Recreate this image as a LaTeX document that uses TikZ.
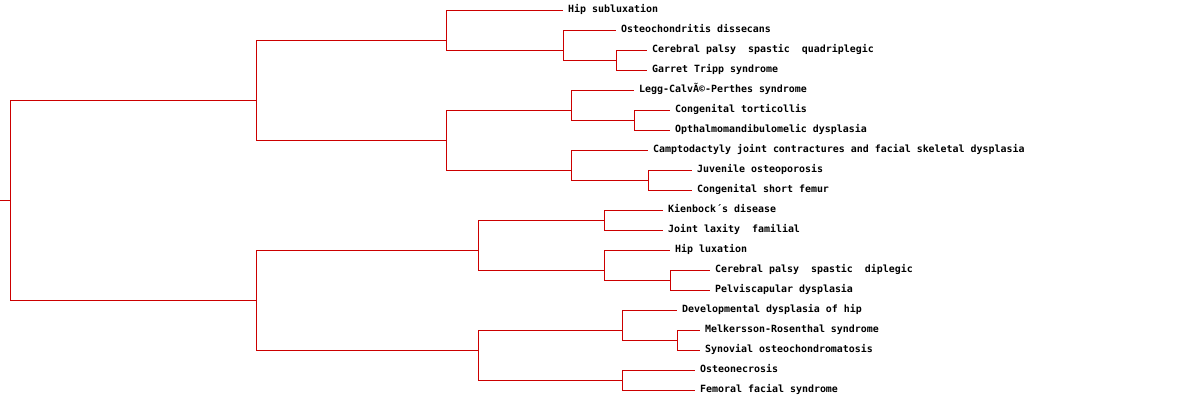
\documentclass[tikz,border=0pt]{standalone}
\usepackage{fontspec}
\newfontfamily\leaffont{DejaVu Sans Mono}
\usetikzlibrary{positioning}
\definecolor{treered}{RGB}{204,0,0}

\begin{document}
\begin{tikzpicture}[x=1pt,y=-1pt,
  link/.style={draw=treered,line width=1pt},
  leaf/.style={anchor=west,inner xsep=5pt,inner ysep=0pt,text height=6pt,text depth=2pt,
    font=\leaffont\bfseries\fontsize{9.95}{10}\selectfont}]
\useasboundingbox (0,0) rectangle (1200,400);

% innere knoten
\coordinate (stub) at (0,200);
\coordinate (root) at (10,200);
\coordinate (up) at (256,100);
\coordinate (low) at (256,300);
\coordinate (u1) at (446,40);
\coordinate (u11) at (563,50);
\coordinate (u111) at (616,60);
\coordinate (u2) at (446,140);
\coordinate (u21) at (571,110);
\coordinate (u211) at (634,120);
\coordinate (u22) at (571,170);
\coordinate (u221) at (648,180);
\coordinate (l1) at (478,250);
\coordinate (l11) at (604,220);
\coordinate (l12) at (604,270);
\coordinate (l121) at (670,280);
\coordinate (l2) at (478,350);
\coordinate (l21) at (622,330);
\coordinate (l211) at (677,340);
\coordinate (l22) at (622,380);

% blaetter
\node[leaf] (hipsub) at (563,10) {Hip subluxation};
\node[leaf] (osteo) at (616,30) {Osteochondritis dissecans};
\node[leaf] (cpquad) at (647,50) {Cerebral palsy~~spastic~~quadriplegic};
\node[leaf] (garret) at (647,70) {Garret Tripp syndrome};
\node[leaf] (legg) at (634,90) {Legg-CalvÃ©-Perthes syndrome};
\node[leaf] (torti) at (670,110) {Congenital torticollis};
\node[leaf] (optha) at (670,130) {Opthalmomandibulomelic dysplasia};
\node[leaf] (campto) at (648,150) {Camptodactyly joint contractures and facial skeletal dysplasia};
\node[leaf] (juven) at (692,170) {Juvenile osteoporosis};
\node[leaf] (femur) at (692,190) {Congenital short femur};
\node[leaf] (kien) at (663,210) {Kienbock´s disease};
\node[leaf] (laxity) at (663,230) {Joint laxity~~familial};
\node[leaf] (hiplux) at (670,250) {Hip luxation};
\node[leaf] (cpdipl) at (710,270) {Cerebral palsy~~spastic~~diplegic};
\node[leaf] (pelvi) at (710,290) {Pelviscapular dysplasia};
\node[leaf] (ddh) at (677,310) {Developmental dysplasia of hip};
\node[leaf] (melk) at (700,330) {Melkersson-Rosenthal syndrome};
\node[leaf] (synov) at (700,350) {Synovial osteochondromatosis};
\node[leaf] (necro) at (695,370) {Osteonecrosis};
\node[leaf] (femfac) at (695,390) {Femoral facial syndrome};

% verbindungen
\draw[link] (stub) -- (root);
\foreach \p/\c in {root/up,root/low,up/u1,up/u2,u1/hipsub,u1/u11,u11/osteo,u11/u111,
  u111/cpquad,u111/garret,u2/u21,u2/u22,u21/legg,u21/u211,u211/torti,u211/optha,
  u22/campto,u22/u221,u221/juven,u221/femur,low/l1,low/l2,l1/l11,l1/l12,
  l11/kien,l11/laxity,l12/hiplux,l12/l121,l121/cpdipl,l121/pelvi,l2/l21,l2/l22,
  l21/ddh,l21/l211,l211/melk,l211/synov,l22/necro,l22/femfac}
  \draw[link] (\p) |- (\c.west);

\end{tikzpicture}
\end{document}
